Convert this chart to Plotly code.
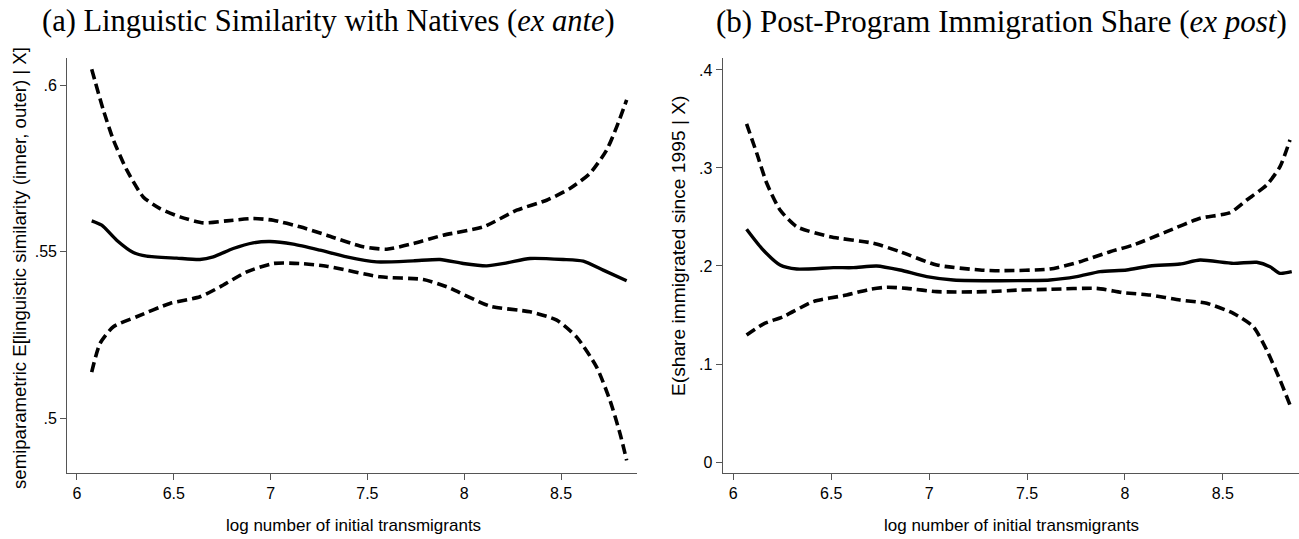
import plotly.graph_objects as go

# Panel (a): linguistic similarity with natives, fit and 95% band
a_x = [6.076, 6.128, 6.205, 6.291, 6.36, 6.515, 6.635, 6.704, 6.807, 6.91, 6.997, 7.117,
       7.255, 7.393, 7.548, 7.737, 7.875, 7.995, 8.116, 8.22, 8.34, 8.512, 8.615, 8.718, 8.839]
a_fit = [0.5593, 0.5580, 0.5535, 0.5498, 0.5487, 0.5481, 0.5477, 0.5485, 0.5510, 0.5527, 0.5531, 0.5523,
         0.5505, 0.5485, 0.5470, 0.5473, 0.5477, 0.5465, 0.5458, 0.5467, 0.5480, 0.5477, 0.5472, 0.5445, 0.5413]

a_hi_x = [6.076, 6.136, 6.188, 6.257, 6.342, 6.429, 6.532, 6.652, 6.773, 6.91, 7.014, 7.152, 7.29,
          7.479, 7.6, 7.737, 7.892, 8.099, 8.271, 8.426, 8.546, 8.65, 8.736, 8.788, 8.839]
a_hi = [0.6048, 0.5926, 0.5836, 0.5746, 0.5665, 0.5630, 0.5605, 0.5587, 0.5593, 0.5600, 0.5595, 0.5575, 0.5550,
        0.5515, 0.5508, 0.5525, 0.5550, 0.5575, 0.5625, 0.5655, 0.5690, 0.5736, 0.5806, 0.5876, 0.5956]

a_lo_x = [6.076, 6.119, 6.188, 6.308, 6.48, 6.635, 6.739, 6.877, 7.014, 7.152, 7.29, 7.565, 7.789,
          7.91, 8.133, 8.34, 8.478, 8.581, 8.684, 8.753, 8.805, 8.839]
a_lo = [0.5139, 0.5225, 0.5275, 0.5305, 0.5345, 0.5365, 0.5395, 0.5440, 0.5465, 0.5465, 0.5457, 0.5425, 0.5417,
        0.5395, 0.5337, 0.5320, 0.5295, 0.5244, 0.5154, 0.5054, 0.4954, 0.4874]

# Panel (b): post-program immigration share, fit and 95% band
b_x = [6.068, 6.145, 6.239, 6.324, 6.511, 6.613, 6.732, 6.851, 6.988, 7.124, 7.362, 7.617, 7.754,
       7.873, 8.009, 8.128, 8.281, 8.384, 8.554, 8.673, 8.741, 8.792, 8.852]
b_fit = [0.2374, 0.2180, 0.2010, 0.1969, 0.1983, 0.1983, 0.2000, 0.1959, 0.1891, 0.1857, 0.1850, 0.1857, 0.1891,
         0.1942, 0.1959, 0.2000, 0.2020, 0.2061, 0.2027, 0.2038, 0.1993, 0.1925, 0.1942]

b_hi_x = [6.068, 6.12, 6.171, 6.239, 6.324, 6.494, 6.715, 6.851, 7.039, 7.26, 7.362, 7.617, 7.771,
          7.924, 8.043, 8.213, 8.384, 8.537, 8.622, 8.724, 8.792, 8.843]
b_hi = [0.3449, 0.3150, 0.2844, 0.2571, 0.2401, 0.2299, 0.2232, 0.2146, 0.2010, 0.1959, 0.1952, 0.1969, 0.2044,
        0.2146, 0.2214, 0.2350, 0.2487, 0.2544, 0.2673, 0.2827, 0.3013, 0.3286]

b_lo_x = [6.068, 6.153, 6.255, 6.408, 6.579, 6.698, 6.784, 6.886, 7.039, 7.294, 7.464, 7.617, 7.856,
          7.992, 8.128, 8.281, 8.418, 8.554, 8.656, 8.724, 8.792, 8.843]
b_lo = [0.1296, 0.1408, 0.1483, 0.1636, 0.1704, 0.1762, 0.1783, 0.1772, 0.1738, 0.1738, 0.1755, 0.1762, 0.1772,
        0.1728, 0.1704, 0.1653, 0.1619, 0.1517, 0.1381, 0.1143, 0.0837, 0.0582]

x_ticks = [6, 6.5, 7, 7.5, 8, 8.5]
x_tick_text = ["6", "6.5", "7", "7.5", "8", "8.5"]
a_ticks = [0.5, 0.55, 0.6]
a_tick_text = [".5", ".55", ".6"]
b_ticks = [0, 0.1, 0.2, 0.3, 0.4]
b_tick_text = ["0", ".1", ".2", ".3", ".4"]

SANS = "Liberation Sans, Arial, Helvetica, sans-serif"
SERIF = "Liberation Serif, Times New Roman, serif"
INK = "black"
AXIS = "#555555"

solid = dict(color=INK, width=3.4, shape="spline", smoothing=0.6)
dashed = dict(color=INK, width=3.6, dash="10px,5px", shape="spline", smoothing=0.6)

fig = go.Figure()
fig.add_trace(go.Scatter(x=a_x, y=a_fit, mode="lines", line=solid, xaxis="x", yaxis="y"))
fig.add_trace(go.Scatter(x=a_hi_x, y=a_hi, mode="lines", line=dashed, xaxis="x", yaxis="y"))
fig.add_trace(go.Scatter(x=a_lo_x, y=a_lo, mode="lines", line=dashed, xaxis="x", yaxis="y"))
fig.add_trace(go.Scatter(x=b_x, y=b_fit, mode="lines", line=solid, xaxis="x2", yaxis="y2"))
fig.add_trace(go.Scatter(x=b_hi_x, y=b_hi, mode="lines", line=dashed, xaxis="x2", yaxis="y2"))
fig.add_trace(go.Scatter(x=b_lo_x, y=b_lo, mode="lines", line=dashed, xaxis="x2", yaxis="y2"))

W, H = 1299, 539
ydom = [1 - 473 / H, 1 - 58 / H]

common_axis = dict(showline=True, linecolor=AXIS, linewidth=1.3, ticks="outside", ticklen=6,
                   tickcolor=AXIS, tickwidth=1.3, showgrid=False, zeroline=False,
                   tickfont=dict(family=SANS, size=16, color=INK))

fig.update_layout(
    width=W, height=H,
    margin=dict(l=0, r=0, t=0, b=0),
    paper_bgcolor="white", plot_bgcolor="white",
    showlegend=False,
    xaxis=dict(domain=[67.3 / W, 637.3 / W], range=[5.95, 8.894], tickvals=x_ticks,
               ticktext=x_tick_text, anchor="y", **common_axis),
    yaxis=dict(domain=ydom, range=[0.4836, 0.6082], tickvals=a_ticks, ticktext=a_tick_text,
               anchor="x", **common_axis),
    xaxis2=dict(domain=[722.7 / W, 1.0], range=[5.946, 8.889], tickvals=x_ticks,
                ticktext=x_tick_text, anchor="y2", **common_axis),
    yaxis2=dict(domain=ydom, range=[-0.0112, 0.4122], tickvals=b_ticks, ticktext=b_tick_text,
                anchor="x2", **common_axis),
)

def px_x(p):
    return p / W

def px_y(p):
    return 1 - p / H

annotations = [
    dict(text="(a) Linguistic Similarity with Natives (<i>ex ante</i>)", x=px_x(328), y=px_y(21),
         font=dict(family=SERIF, size=30.5, color=INK)),
    dict(text="(b) Post-Program Immigration Share (<i>ex post</i>)", x=px_x(1001), y=px_y(21),
         font=dict(family=SERIF, size=31, color=INK)),
    dict(text="log number of initial transmigrants", x=px_x(353), y=px_y(525),
         font=dict(family=SANS, size=17, color=INK)),
    dict(text="log number of initial transmigrants", x=px_x(1011), y=px_y(525),
         font=dict(family=SANS, size=17, color=INK)),
    dict(text="semiparametric E[linguistic similarity (inner, outer) | X]", x=px_x(19), y=px_y(268),
         textangle=-90, font=dict(family=SANS, size=18.6, color=INK)),
    dict(text="E(share immigrated since 1995 | X)", x=px_x(679), y=px_y(246),
         textangle=-90, font=dict(family=SANS, size=19.2, color=INK)),
]
for a in annotations:
    a.update(xref="paper", yref="paper", showarrow=False, xanchor="center", yanchor="middle")
fig.update_layout(annotations=annotations)

fig.write_html("out.html")
